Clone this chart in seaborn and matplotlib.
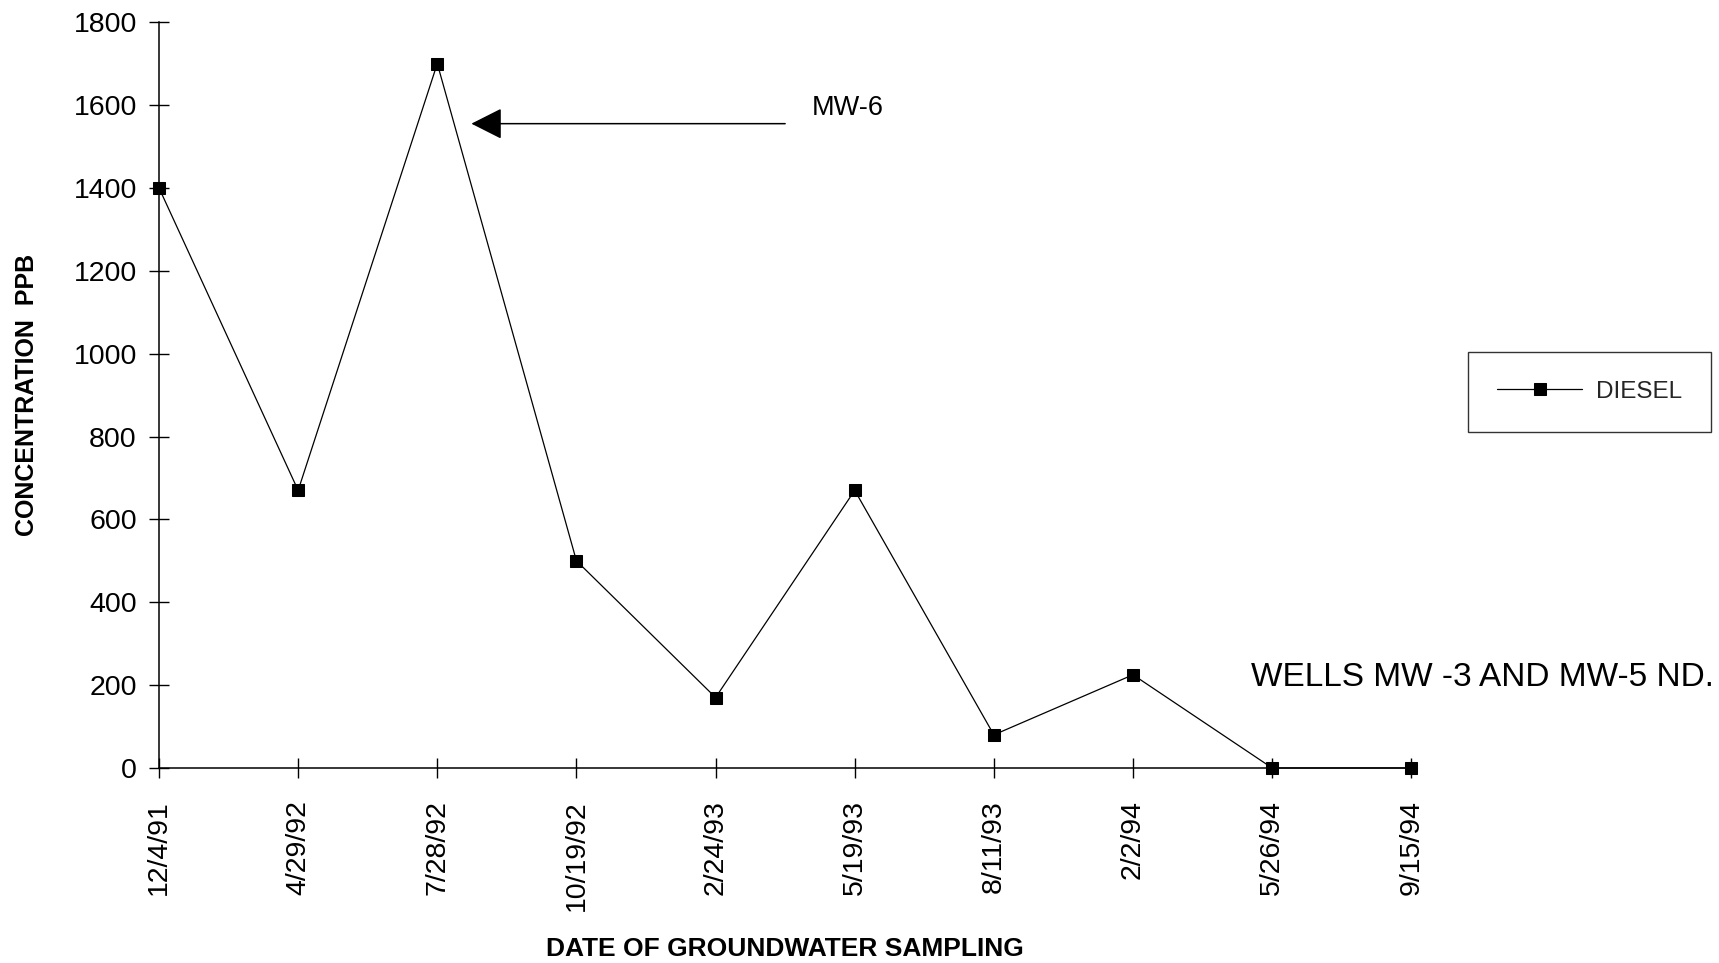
import matplotlib
matplotlib.use("Agg")
import matplotlib.pyplot as plt
import seaborn as sns
import numpy as np
import pandas as pd

# Diesel concentration in groundwater, well MW-6
sample_dates = ["12/4/91", "4/29/92", "7/28/92", "10/19/92", "2/24/93",
                "5/19/93", "8/11/93", "2/2/94", "5/26/94", "9/15/94"]
diesel_ppb = [1400, 670, 1700, 500, 170, 670, 80, 225, 0, 0]
y_ticks = [0, 200, 400, 600, 800, 1000, 1200, 1400, 1600, 1800]
series_name = "DIESEL"

df = pd.DataFrame({
    "pos": np.arange(len(sample_dates)),
    "ppb": diesel_ppb,
    "series": series_name,
})

sns.set_theme(style="white")
plt.rcParams["font.family"] = ["Liberation Sans", "DejaVu Sans"]

fig = plt.figure(figsize=(17.19, 9.63), dpi=100)
ax = fig.add_axes([0.0925, 0.2025, 0.7285, 0.7745])

sns.lineplot(data=df, x="pos", y="ppb", hue="series", palette=["black"],
             marker="s", markersize=8.5, markeredgecolor="black",
             linewidth=0.9, ax=ax, clip_on=False, legend=True)

ax.set_xlim(0, len(sample_dates) - 1)
ax.set_ylim(0, 1800)
ax.set_xticks(df["pos"])
ax.set_xticklabels(sample_dates, rotation=90)
ax.set_yticks(y_ticks)

for side in ["top", "right"]:
    ax.spines[side].set_visible(False)
for side in ["left", "bottom"]:
    ax.spines[side].set_color("black")
    ax.spines[side].set_linewidth(1.1)

ax.tick_params(axis="both", direction="inout", length=14, width=1.0,
               color="black", labelsize=20.5, labelcolor="black",
               bottom=True, left=True)
ax.tick_params(axis="y", pad=9)
ax.tick_params(axis="x", pad=16)

ax.set_xlabel("DATE OF GROUNDWATER SAMPLING", fontsize=19, fontweight="bold",
              labelpad=19, color="black")
ax.set_ylabel("CONCENTRATION  PPB", fontsize=18, fontweight="bold",
              labelpad=25, color="black")

# Arrow pointing at the MW-6 peak
ax.annotate("", xy=(2.245, 1555), xytext=(4.5, 1555),
            arrowprops=dict(arrowstyle="-|>,head_length=0.97,head_width=0.49",
                            mutation_scale=20, color="black", lw=1.1,
                            shrinkA=0, shrinkB=0))
ax.text(4.69, 1593, "MW-6", fontsize=19.5, va="center", ha="left", color="black")
ax.text(7.85, 218, "WELLS MW -3 AND MW-5 ND.", fontsize=24, va="center",
        ha="left", color="black", clip_on=False)

handles, labels = ax.get_legend_handles_labels()
ax.legend_.remove()
leg = fig.legend(handles, labels, loc="center left",
                 bbox_to_anchor=(1468 / 1719, 1 - 392 / 963),
                 borderaxespad=0, fontsize=17.5, handlelength=3.5,
                 handletextpad=0.57, borderpad=1.2, frameon=True,
                 fancybox=False, edgecolor="black")
leg.get_frame().set_linewidth(1.0)

fig.savefig("out.png", dpi=100)
